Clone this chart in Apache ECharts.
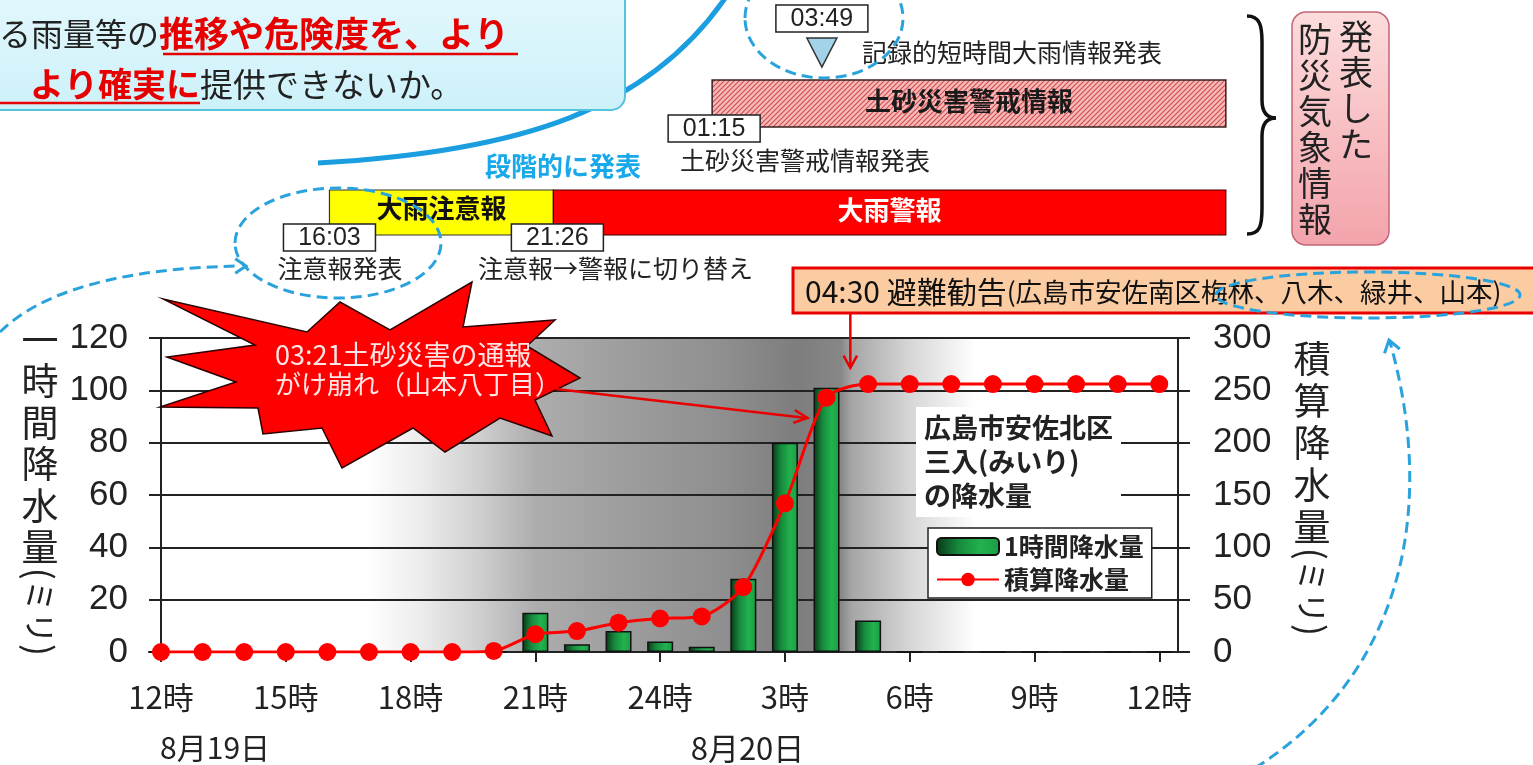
<!DOCTYPE html>
<html><head><meta charset="utf-8">
<script src="https://cdn.jsdelivr.net/npm/echarts@6/dist/echarts.min.js"></script>
<style>html,body{margin:0;padding:0;background:#fff;overflow:hidden}#c{width:1533px;height:765px}</style>
</head><body><div id="c"></div>
<script>
// ---------------- data ----------------
const hours = [12,13,14,15,16,17,18,19,20,21,22,23,24,25,26,27,28,29,30,31,32,33,34,35,36];
const hourlyRain = [0,0,0,0,0,0,0,0,0,15,3,8,4,2,28,80,101,12,0,0,0,0,0,0,0];
const cumulativeRain = [0,0,0,0,0,0,0,0,1,17,20,28,32,34,62,142,243,256,256,256,256,256,256,256,256];
const xTickHours = [12,15,18,21,24,27,30,33,36];
const xTickLabels = ['12時','15時','18時','21時','24時','3時','6時','9時','12時'];
const dateLabels = ['8月19日','8月20日'];
const seriesNames = ['1時間降水量','積算降水量'];
const advisoryTime = '16:03';
const warningTime = '21:26';
const landslideTime = '01:15';
const recordTime = '03:49';
const evacuationTime = '04:30';
const reportTime = '03:21';

// ---------------- helpers ----------------
const FJP = '"Noto Sans CJK JP","Noto Sans",sans-serif';
const FNUM = '"Liberation Sans",Arial,sans-serif';
const X_MIN = 12, X_MAX = 36.45;
function hm(s){const p=s.split(':').map(Number);let h=p[0]+p[1]/60;if(h<12)h+=24;return h;}
const off = h => (h - X_MIN) / (X_MAX - X_MIN);
const bgStops = [[16.9,'#ffffff'],[18.2,'#ededed'],[19.6,'#d0d0d0'],[21,'#adadad'],[23,'#9e9e9e'],[25.5,'#8f8f8f'],[27.3,'#7d7d7d'],[28.35,'#878787'],[28.6,'#a5a5a5'],[30,'#d6d6d6'],[31.6,'#ffffff']];

const chart = echarts.init(document.getElementById('c'));
const barGrad = new echarts.graphic.LinearGradient(0,0,1,0,[
  {offset:0,color:'#0a3517'},{offset:0.35,color:'#168a3c'},{offset:0.7,color:'#22b24f'},{offset:1,color:'#1b9c45'}]);

chart.setOption({
  animation:false,
  backgroundColor:'#fff',
  grid:{left:161,right:355,top:338,bottom:113,show:true,borderWidth:0,
    backgroundColor:new echarts.graphic.LinearGradient(0,0,1,0,bgStops.map(s=>({offset:off(s[0]),color:s[1]})))},
  legend:{data:seriesNames,orient:'vertical',left:928,top:528,backgroundColor:'#fff',borderColor:'#222',borderWidth:1.5,
    padding:[6,8],itemGap:8,itemWidth:62,itemHeight:17,
    textStyle:{fontSize:25,fontWeight:'bold',color:'#222',fontFamily:FJP}},
  xAxis:{type:'value',min:X_MIN,max:X_MAX,interval:3,
    axisLine:{show:true,lineStyle:{color:'#222',width:2}},
    axisTick:{show:true,customValues:xTickHours,length:10,lineStyle:{color:'#222',width:2}},
    axisLabel:{customValues:xTickHours,margin:30,fontSize:31,color:'#222',fontFamily:FJP,
      formatter:v=>{const i=xTickHours.indexOf(v);return i<0?'':xTickLabels[i];}},
    splitLine:{show:false}},
  yAxis:[
    {type:'value',min:0,max:120,interval:20,position:'left',
     axisLine:{show:true,lineStyle:{color:'#222',width:2}},
     axisTick:{show:true,length:12,lineStyle:{color:'#222',width:2}},
     axisLabel:{margin:33,fontSize:35,color:'#222',fontFamily:FNUM},
     splitLine:{show:true,lineStyle:{color:'#222',width:2}}},
    {type:'value',min:0,max:300,interval:50,position:'right',
     axisLine:{show:true,lineStyle:{color:'#222',width:2}},
     axisTick:{show:true,length:12,lineStyle:{color:'#222',width:2}},
     axisLabel:{margin:35,fontSize:35,color:'#222',fontFamily:FNUM},
     splitLine:{show:false}}
  ],
  series:[
    {name:seriesNames[0],type:'bar',yAxisIndex:0,z:2,barWidth:26,
     data:hours.map((h,i)=>[h,hourlyRain[i]]),
     itemStyle:{color:barGrad,borderColor:'#111',borderWidth:1.5}},
    {name:seriesNames[1],type:'line',yAxisIndex:1,z:3,smooth:0.25,
     data:hours.map((h,i)=>[h,cumulativeRain[i]]),
     symbol:'circle',symbolSize:18,
     lineStyle:{color:'#ff0000',width:3},itemStyle:{color:'#ff0000'}}
  ]
});

const X = h => chart.convertToPixel({xAxisIndex:0}, h);

// hatch pattern
const pc=document.createElement('canvas');pc.width=5;pc.height=5;
const g=pc.getContext('2d');g.fillStyle='#f7b9b9';g.fillRect(0,0,5,5);
g.strokeStyle='#cf4b4b';g.lineWidth=1.1;g.beginPath();g.moveTo(-1,6);g.lineTo(6,-1);g.moveTo(-1,1);g.lineTo(1,-1);g.moveTo(4,6);g.lineTo(6,4);g.stroke();

function T(x,y,text,o){o=o||{};const st={text:text,fill:o.fill||'#222',fontSize:o.size||26,fontFamily:o.font||FJP,fontWeight:o.weight||'normal',
    align:o.align||'left',verticalAlign:o.va||'middle',textAlign:o.align||'left',textVerticalAlign:o.va||'middle'};
  if(o.lh) st.lineHeight=o.lh; if(o.rich) st.rich=o.rich; if(o.bg){st.backgroundColor=o.bg;st.padding=o.pad;}
  return {type:'text',x:x,y:y,rotation:o.rot||0,z:o.z||20,style:st};}
function L(x1,y1,x2,y2,c,w,dash){return {type:'line',z:20,shape:{x1,y1,x2,y2},style:{stroke:c,lineWidth:w,lineDash:dash||null}};}
function B(x1,y1,cpx1,cpy1,cpx2,cpy2,x2,y2,c,w,dash,z){return {type:'bezierCurve',z:z||20,shape:{x1,y1,cpx1,cpy1,cpx2,cpy2,x2,y2},style:{stroke:c,lineWidth:w,lineDash:dash||null,fill:null}};}
function head(tx,ty,ang,c,w,len,sp){len=len||15;sp=sp||0.5;return {type:'polyline',z:21,
  shape:{points:[[tx-len*Math.cos(ang-sp),ty-len*Math.sin(ang-sp)],[tx,ty],[tx-len*Math.cos(ang+sp),ty-len*Math.sin(ang+sp)]]},
  style:{stroke:c,lineWidth:w,fill:null}};}
function R(x,y,w,h,fill,stroke,lw,r){return {type:'rect',z:20,shape:{x,y,width:w,height:h,r:r||0},
  style:{fill:fill,stroke:stroke,lineWidth:lw||1}};}

const BLUE='#2aa3dd', RED='#e80000';
const gx = {adv:X(hm(advisoryTime)), warn:X(hm(warningTime)), land:X(hm(landslideTime)), rec:X(hm(recordTime)),
            evac:X(hm(evacuationTime)), rep:X(hm(reportTime)), end:X(37.6)};
const els = [];

// top-left box & blue curve
els.push(B(318,163,520,152,650,110,728,-6,'#1a9ee0',5));
els.push(R(-20,-20,645,130,new echarts.graphic.LinearGradient(0,0,0,1,[{offset:0,color:'#e4f8fd'},{offset:1,color:'#cdf1f9'}]),'#55c3dd',2,14));
els.push(T(-1,34,'{a|る雨量等の}{b|推移や危険度を、より}',{rich:{a:{fontSize:32,fill:'#222',fontFamily:FJP},b:{fontSize:35,fill:'#e60000',fontWeight:'bold',fontFamily:FJP}}}));
els.push(T(30,84,'{b|より確実に}{a|提供できないか。}',{rich:{a:{fontSize:33,fill:'#222',fontFamily:FJP},b:{fontSize:34,fill:'#e60000',fontWeight:'bold',fontFamily:FJP}}}));
els.push(L(163,54,518,54,'#e60000',2.5));
els.push(L(0,103,200,103,'#e60000',2.5));
els.push(T(485,166,'段階的に発表',{fill:'#19a8ea',size:26,weight:'bold'}));

// timeline bars
els.push(R(gx.land,80,gx.end-gx.land,47,{image:pc,repeat:'repeat'},'#3a2020',1.5));
els.push(T((gx.land+gx.end)/2,101,'土砂災害警戒情報',{align:'center',size:26,weight:'bold',fill:'#1a1a1a'}));
els.push(R(gx.adv,190,gx.warn-gx.adv,45,'#ffff00','#333',1.2));
els.push(R(gx.warn,190,gx.end-gx.warn,45,'#ff0000','#400',1.2));
els.push(T((gx.adv+gx.warn)/2,208,'大雨注意報',{align:'center',size:26,weight:'bold',fill:'#111'}));
els.push(T((gx.warn+gx.end)/2,210,'大雨警報',{align:'center',size:26,weight:'bold',fill:'#fff'}));

// time boxes
function tbox(cx,y,label){els.push(R(cx-46,y,92,27,'#fff','#222',1.5));els.push(T(cx,y+14,label,{align:'center',size:25,font:FNUM}));}
tbox(gx.adv,224,advisoryTime);
tbox(gx.warn+4,224,warningTime);
tbox(gx.land+2,115,landslideTime);
tbox(gx.rec+3,5,recordTime);
els.push({type:'polygon',z:20,shape:{points:[[gx.rec-12,38],[gx.rec+18,38],[gx.rec+3,67]]},style:{fill:'#a3d3e8',stroke:'#333',lineWidth:1.5}});
els.push(T(gx.adv-52,268,'注意報発表',{size:25}));
els.push(T(478,268,'注意報→警報に切り替え',{size:25}));
els.push(T(680,160,'土砂災害警戒情報発表',{size:25}));
els.push(T(862,52,'記録的短時間大雨情報発表',{size:25}));

// dashed ellipses & arrows
const dash=[11,6];
els.push({type:'ellipse',z:21,shape:{cx:338,cy:243,rx:103,ry:55},style:{stroke:BLUE,lineWidth:3,lineDash:dash,fill:null}});
els.push({type:'ellipse',z:21,shape:{cx:824,cy:18,rx:79,ry:60},style:{stroke:BLUE,lineWidth:3,lineDash:dash,fill:null}});
els.push(B(0,332,40,292,120,268,240,266,BLUE,3,dash,21));
els.push(head(246,266,0,BLUE,3,13,0.6));
els.push(B(1255,768,1395,680,1440,520,1390,342,BLUE,3,dash,21));
els.push(head(1389,340,Math.atan2(-178,-50),BLUE,3,14,0.6));

// brace & pink box
const BK='#111';
els.push(B(1247,16,1260,16,1262,26,1262,42,BK,3.5));
els.push(L(1262,42,1262,100,BK,3.5));
els.push(B(1262,100,1262,112,1267,118,1276,118,BK,3.5));
els.push(B(1276,118,1267,118,1262,124,1262,136,BK,3.5));
els.push(L(1262,136,1262,208,BK,3.5));
els.push(B(1262,208,1262,226,1260,234,1247,234,BK,3.5));
els.push(R(1292,12,97,233,new echarts.graphic.LinearGradient(0,0,0,1,[{offset:0,color:'#fcdcdc'},{offset:1,color:'#f3a3ab'}]),'#c46676',1.5,14));
els.push(T(1356,18,'発\n表\nし\nた',{align:'center',va:'top',size:34,lh:36}));
els.push(T(1315,21,'防\n災\n気\n象\n情\n報',{align:'center',va:'top',size:34,lh:36}));

// evacuation box + arrow
els.push(R(793,268,745,45,'#fbcba2',RED,3));
els.push(T(805,292,'{a|04:30 避難勧告}{b|(広島市安佐南区梅林、八木、緑井、山本)}',{rich:{a:{fontSize:30,fill:'#111',fontFamily:FJP},b:{fontSize:26.5,fill:'#111',fontFamily:FJP}}}));
els.push({type:'ellipse',z:22,shape:{cx:1368,cy:295,rx:152,ry:23},style:{stroke:BLUE,lineWidth:3,lineDash:dash,fill:null}});
els.push(L(gx.evac+3,313,gx.evac+3,367,RED,2.5));
els.push(head(gx.evac+3,368,Math.PI/2,RED,2.5,14,0.5));

// starburst
const burst=[[163,299],[307,332],[340,302],[390,330],[472,282],[463,327],[555,320],[527,346],[580,378],[535,400],[552,436],[500,418],[445,452],[413,428],[342,468],[322,428],[263,434],[258,408],[160,407],[236,382],[167,357],[255,345]];
els.push({type:'polygon',z:20,shape:{points:burst},style:{fill:'#ff0000',stroke:'#2a0000',lineWidth:1.5}});
els.push(T(275,355,'03:21土砂災害の通報',{size:27,fill:'#ffe6e6'}));
els.push(T(275,384,'がけ崩れ（山本八丁目）',{size:26,fill:'#ffe6e6'}));
els.push(L(556,389,gx.rep+7,418,RED,2.5));
els.push(head(gx.rep+8,418,Math.atan2(29,252),RED,2.5,15,0.45));

// location note
els.push(T(916,462,'広島市安佐北区\n三入(みいり)\nの降水量',{size:27,weight:'bold',lh:34,bg:'#fff',pad:[4,8,4,8],z:19}));

// axis names
const mmRich={p:{fontSize:36,fontFamily:FJP,fill:'#222'},m:{fontSize:32,fontFamily:FJP,fill:'#222'}};
els.push(T(40,319,'一\n時\n間\n降\n水\n量',{align:'center',va:'top',size:37,lh:41.5}));
els.push(T(40,612,'{p|(}{m|ミリ}{p|)}',{align:'center',rot:-Math.PI/2,rich:mmRich}));
els.push(T(1312,338,'積\n算\n降\n水\n量',{align:'center',va:'top',size:37,lh:42}));
els.push(T(1312,592,'{p|(}{m|ミリ}{p|)}',{align:'center',rot:-Math.PI/2,rich:mmRich}));

// date labels
els.push(T(X(13.3),748,dateLabels[0],{align:'center',size:30}));
els.push(T(X(26.1),748,dateLabels[1],{align:'center',size:31}));

chart.setOption({graphic:{elements:els}});
</script></body></html>
